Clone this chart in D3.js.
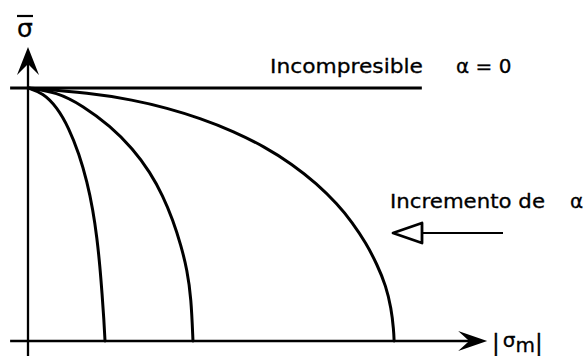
<!DOCTYPE html>
<html>
<head>
<meta charset="utf-8">
<script src="https://cdn.jsdelivr.net/npm/d3@7"></script>
<style>
  html, body { margin: 0; padding: 0; background: #fff; }
  svg { display: block; }
  text { font-family: "DejaVu Sans", "Liberation Sans", sans-serif; fill: #000; stroke: #000; stroke-width: 0.3px; }
</style>
</head>
<body>
<svg id="chart" width="588" height="356"></svg>
<script>
// Yield surfaces: equivalent stress (σ̄ / σ0) against |σm| / σ0,
// for increasing values of the compressibility parameter α.
const curveLowAlpha = [
  [0.000, 1.000], [0.041, 0.980], [0.079, 0.925], [0.112, 0.842],
  [0.140, 0.739], [0.162, 0.629], [0.178, 0.518], [0.189, 0.407],
  [0.197, 0.296], [0.203, 0.186], [0.208, 0.083], [0.211, 0.000]
];
const curveMidAlpha = [
  [0.000, 1.000], [0.079, 0.984], [0.151, 0.929], [0.225, 0.850],
  [0.288, 0.759], [0.334, 0.668], [0.370, 0.573], [0.397, 0.478],
  [0.419, 0.379], [0.436, 0.281], [0.447, 0.170], [0.452, 0.000]
];
const curveHighAlpha = [
  [0.000, 1.000], [0.170, 0.980], [0.288, 0.953], [0.381, 0.921],
  [0.471, 0.881], [0.562, 0.830], [0.649, 0.767], [0.723, 0.700],
  [0.792, 0.621], [0.847, 0.542], [0.888, 0.470], [0.926, 0.387],
  [0.956, 0.304], [0.981, 0.217], [0.995, 0.130], [1.002, 0.043],
  [1.003, 0.000]
];
// α = 0: incompressible material, horizontal line at σ̄ = σ0
const incompressible = [[-0.049, 1.0], [1.079, 1.0]];

const xAxisExtent = [-0.049, 1.258];
const yAxisExtent = [-0.06, 1.162];

const svg = d3.select("#chart");

const x = d3.scaleLinear().domain([0, 1]).range([28, 393]);
const y = d3.scaleLinear().domain([0, 1]).range([341, 88]);

const line = d3.line()
  .x(d => x(d[0]))
  .y(d => y(d[1]))
  .curve(d3.curveBasis);

// axes
svg.append("line")
  .attr("x1", x(xAxisExtent[0])).attr("x2", x(xAxisExtent[1]) - 6)
  .attr("y1", y(0)).attr("y2", y(0))
  .attr("stroke", "#000").attr("stroke-width", 2.3);
svg.append("line")
  .attr("x1", x(0)).attr("x2", x(0))
  .attr("y1", y(yAxisExtent[0])).attr("y2", y(yAxisExtent[1]) + 6)
  .attr("stroke", "#000").attr("stroke-width", 2.3);

// arrowheads on the axes
const xt = [x(xAxisExtent[1]), y(0)];
svg.append("path")
  .attr("d", `M${xt[0]},${xt[1]} L${xt[0] - 29},${xt[1] - 10} L${xt[0] - 18},${xt[1]} L${xt[0] - 29},${xt[1] + 10} Z`)
  .attr("fill", "#000");
const yt = [x(0), y(yAxisExtent[1])];
svg.append("path")
  .attr("d", `M${yt[0]},${yt[1]} L${yt[0] - 11},${yt[1] + 28} L${yt[0]},${yt[1] + 17} L${yt[0] + 11},${yt[1] + 28} Z`)
  .attr("fill", "#000");

// incompressible limit
svg.append("path")
  .datum(incompressible)
  .attr("d", d3.line().x(d => x(d[0])).y(d => y(d[1])))
  .attr("fill", "none").attr("stroke", "#000").attr("stroke-width", 2.8);

// yield curves
svg.selectAll("path.curve")
  .data([curveLowAlpha, curveMidAlpha, curveHighAlpha])
  .join("path")
  .attr("class", "curve")
  .attr("d", line)
  .attr("fill", "none")
  .attr("stroke", "#000")
  .attr("stroke-width", 3)
  .attr("stroke-linecap", "round");

// y-axis label: σ with an overbar
svg.append("text")
  .attr("x", 25).attr("y", 37)
  .attr("text-anchor", "middle")
  .attr("font-size", 25)
  .text("σ");
svg.append("line")
  .attr("x1", 17).attr("x2", 33).attr("y1", 16).attr("y2", 16)
  .attr("stroke", "#000").attr("stroke-width", 2.2);

// x-axis label |σm|
const xl = svg.append("text")
  .attr("x", 492).attr("y", 351)
  .attr("font-size", 23);
xl.append("tspan").text("|");
xl.append("tspan").attr("dx", 3).attr("dy", -4).attr("font-size", 20).text("σ");
xl.append("tspan").attr("dy", 5).attr("font-size", 20).text("m");
xl.append("tspan").attr("dy", -1).text("|");

// annotations
svg.append("text")
  .attr("x", 270).attr("y", 73)
  .attr("font-size", 20)
  .attr("textLength", 153).attr("lengthAdjust", "spacingAndGlyphs")
  .text("Incompresible");
svg.append("text")
  .attr("x", 456).attr("y", 73)
  .attr("font-size", 20)
  .text("α = 0");

svg.append("text")
  .attr("x", 390).attr("y", 208)
  .attr("font-size", 20)
  .attr("textLength", 155).attr("lengthAdjust", "spacingAndGlyphs")
  .text("Incremento de");
svg.append("text")
  .attr("x", 570).attr("y", 208)
  .attr("font-size", 20)
  .text("α");

// arrow showing the direction in which α grows
svg.append("line")
  .attr("x1", 421).attr("x2", 503).attr("y1", 233).attr("y2", 233)
  .attr("stroke", "#000").attr("stroke-width", 2);
svg.append("path")
  .attr("d", "M422,223 L393,233 L422,243 Z")
  .attr("fill", "#fff").attr("stroke", "#000").attr("stroke-width", 2.8)
  .attr("stroke-linejoin", "round");
</script>
</body>
</html>
